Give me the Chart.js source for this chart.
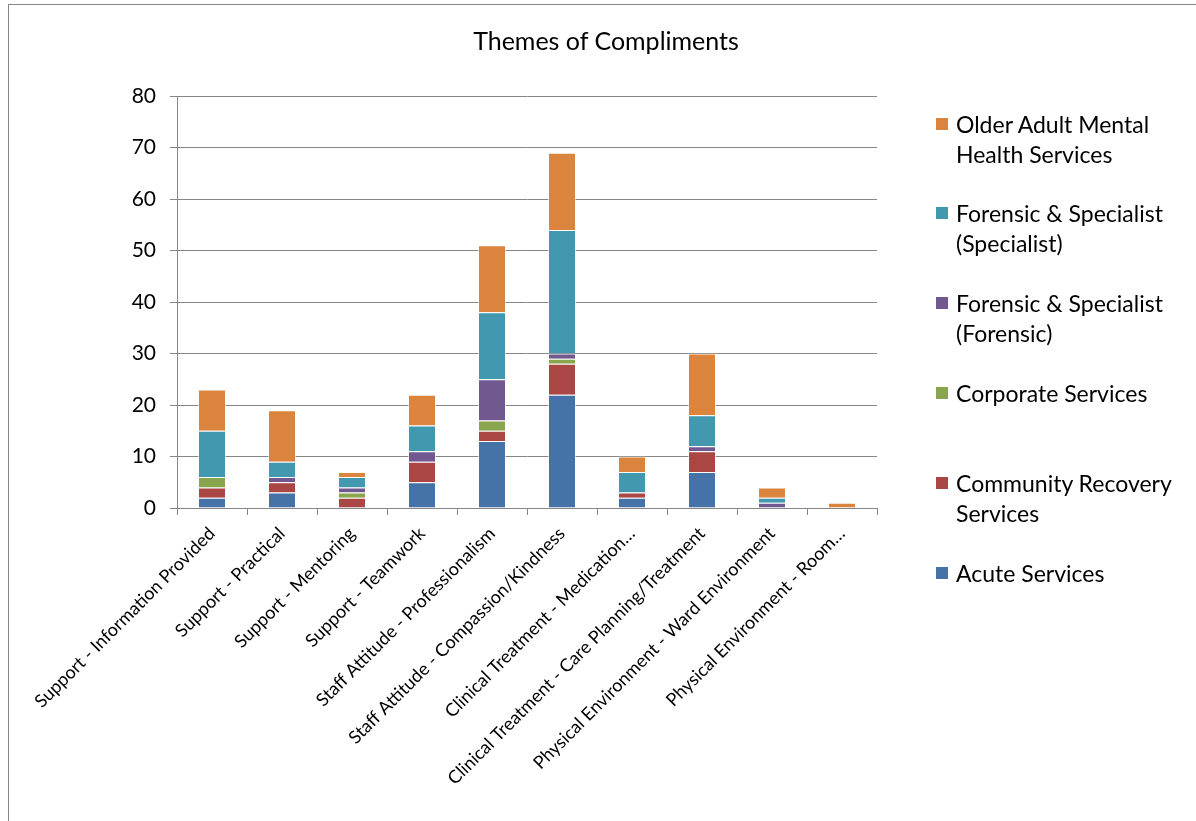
<!DOCTYPE html>
<html lang="en">
<head>
    <meta charset="UTF-8">
    <title>Themes of Compliments</title>
    <script src="https://cdn.jsdelivr.net/npm/chart.js"></script>
    <style>
        body { margin: 0; background: #fff; overflow: hidden; }
        #wrap { position: relative; width: 1196px; height: 821px; }
        #frame { position: absolute; left: 8px; top: 4px; width: 1300px; height: 900px;
                 border-left: 1px solid #868686; border-top: 1px solid #868686; }
        #title { position: absolute; left: 8px; width: 1196px; top: 25px; text-align: center;
                 font-family: Lato, "Open Sans", sans-serif; font-size: 25px; color: #000; }
        #legend { position: absolute; left: 936px; top: 0; font-family: Lato, "Open Sans", sans-serif;
                  font-size: 23px; color: #000; }
        .item { position: absolute; left: 0; width: 250px; line-height: 30px; }
        .box { position: absolute; left: 0; width: 12px; height: 12px; }
        .txt { position: absolute; left: 20px; white-space: nowrap; }
    </style>
</head>
<body>
<div id="wrap">
    <div id="frame"></div>
    <canvas id="themes" width="1196" height="821"></canvas>
    <div id="title">Themes of Compliments</div>
    <div id="legend"></div>
</div>
<script>
var categories = ['Support - Information Provided', 'Support - Practical', 'Support - Mentoring',
    'Support - Teamwork', 'Staff Attitude - Professionalism', 'Staff Attitude - Compassion/Kindness',
    'Clinical Treatment - Medication…', 'Clinical Treatment - Care Planning/Treatment',
    'Physical Environment - Ward Environment', 'Physical Environment - Room…'];

var acute      = [2, 3, 0, 5, 13, 22, 2, 7, 0, 0];
var community  = [2, 2, 2, 4, 2, 6, 1, 4, 0, 0];
var corporate  = [2, 0, 1, 0, 2, 1, 0, 0, 0, 0];
var forensic   = [0, 1, 1, 2, 8, 1, 0, 1, 1, 0];
var specialist = [9, 3, 2, 5, 13, 24, 4, 6, 1, 0];
var olderAdult = [8, 10, 1, 6, 13, 15, 3, 12, 2, 1];

var yTicks = [0, 10, 20, 30, 40, 50, 60, 70, 80];

var series = [
    { label: 'Acute Services', data: acute, color: '#4572A7', lines: ['Acute Services'], top: 558 },
    { label: 'Community Recovery Services', data: community, color: '#AA4643', lines: ['Community Recovery', 'Services'], top: 468 },
    { label: 'Corporate Services', data: corporate, color: '#89A54E', lines: ['Corporate Services'], top: 378 },
    { label: 'Forensic & Specialist (Forensic)', data: forensic, color: '#71588F', lines: ['Forensic & Specialist', '(Forensic)'], top: 288 },
    { label: 'Forensic & Specialist (Specialist)', data: specialist, color: '#4198AF', lines: ['Forensic & Specialist', '(Specialist)'], top: 198 },
    { label: 'Older Adult Mental Health Services', data: olderAdult, color: '#DB843D', lines: ['Older Adult Mental', 'Health Services'], top: 109 }
];

// legend built by hand so the two-line labels wrap like the original
var legend = document.getElementById('legend');
series.forEach(function (s) {
    var item = document.createElement('div');
    item.className = 'item';
    item.style.top = s.top + 'px';
    var box = document.createElement('div');
    box.className = 'box';
    box.style.background = s.color;
    box.style.top = '9px';
    item.appendChild(box);
    var txt = document.createElement('div');
    txt.className = 'txt';
    txt.innerHTML = s.lines.join('<br>');
    item.appendChild(txt);
    legend.appendChild(item);
});

var font = "Lato, 'Open Sans', sans-serif";

var ctx = document.getElementById('themes').getContext('2d');
var chart = new Chart(ctx, {
    type: 'bar',
    data: {
        labels: categories,
        datasets: series.map(function (s) {
            return {
                label: s.label,
                data: s.data,
                backgroundColor: s.color,
                borderColor: 'rgba(255,255,255,0.6)',
                borderWidth: 1,
                barPercentage: 0.4,
                categoryPercentage: 1.0
            };
        })
    },
    options: {
        responsive: false,
        animation: false,
        layout: { padding: { left: 0, right: 319, top: 96, bottom: 13 } },
        plugins: {
            legend: { display: false },
            tooltip: { enabled: false },
            title: { display: false }
        },
        scales: {
            x: {
                stacked: true,
                afterFit: function (axis) { axis.height = 300; },
                grid: { display: true, drawOnChartArea: false, color: '#868686', tickLength: 7, offset: true },
                border: { color: '#868686', width: 1 },
                ticks: {
                    color: '#000',
                    font: { family: font, size: 18 },
                    minRotation: 45,
                    maxRotation: 45,
                    autoSkip: false,
                    padding: 8
                }
            },
            y: {
                stacked: true,
                min: 0,
                max: 80,
                afterFit: function (axis) { axis.width = 177; },
                afterBuildTicks: function (axis) {
                    axis.ticks = yTicks.map(function (v) { return { value: v }; });
                },
                grid: { color: '#868686', tickLength: 7, lineWidth: 1 },
                border: { color: '#868686', width: 1 },
                ticks: {
                    color: '#000',
                    font: { family: font, size: 21 },
                    padding: 14
                }
            }
        }
    }
});
</script>
</body>
</html>
